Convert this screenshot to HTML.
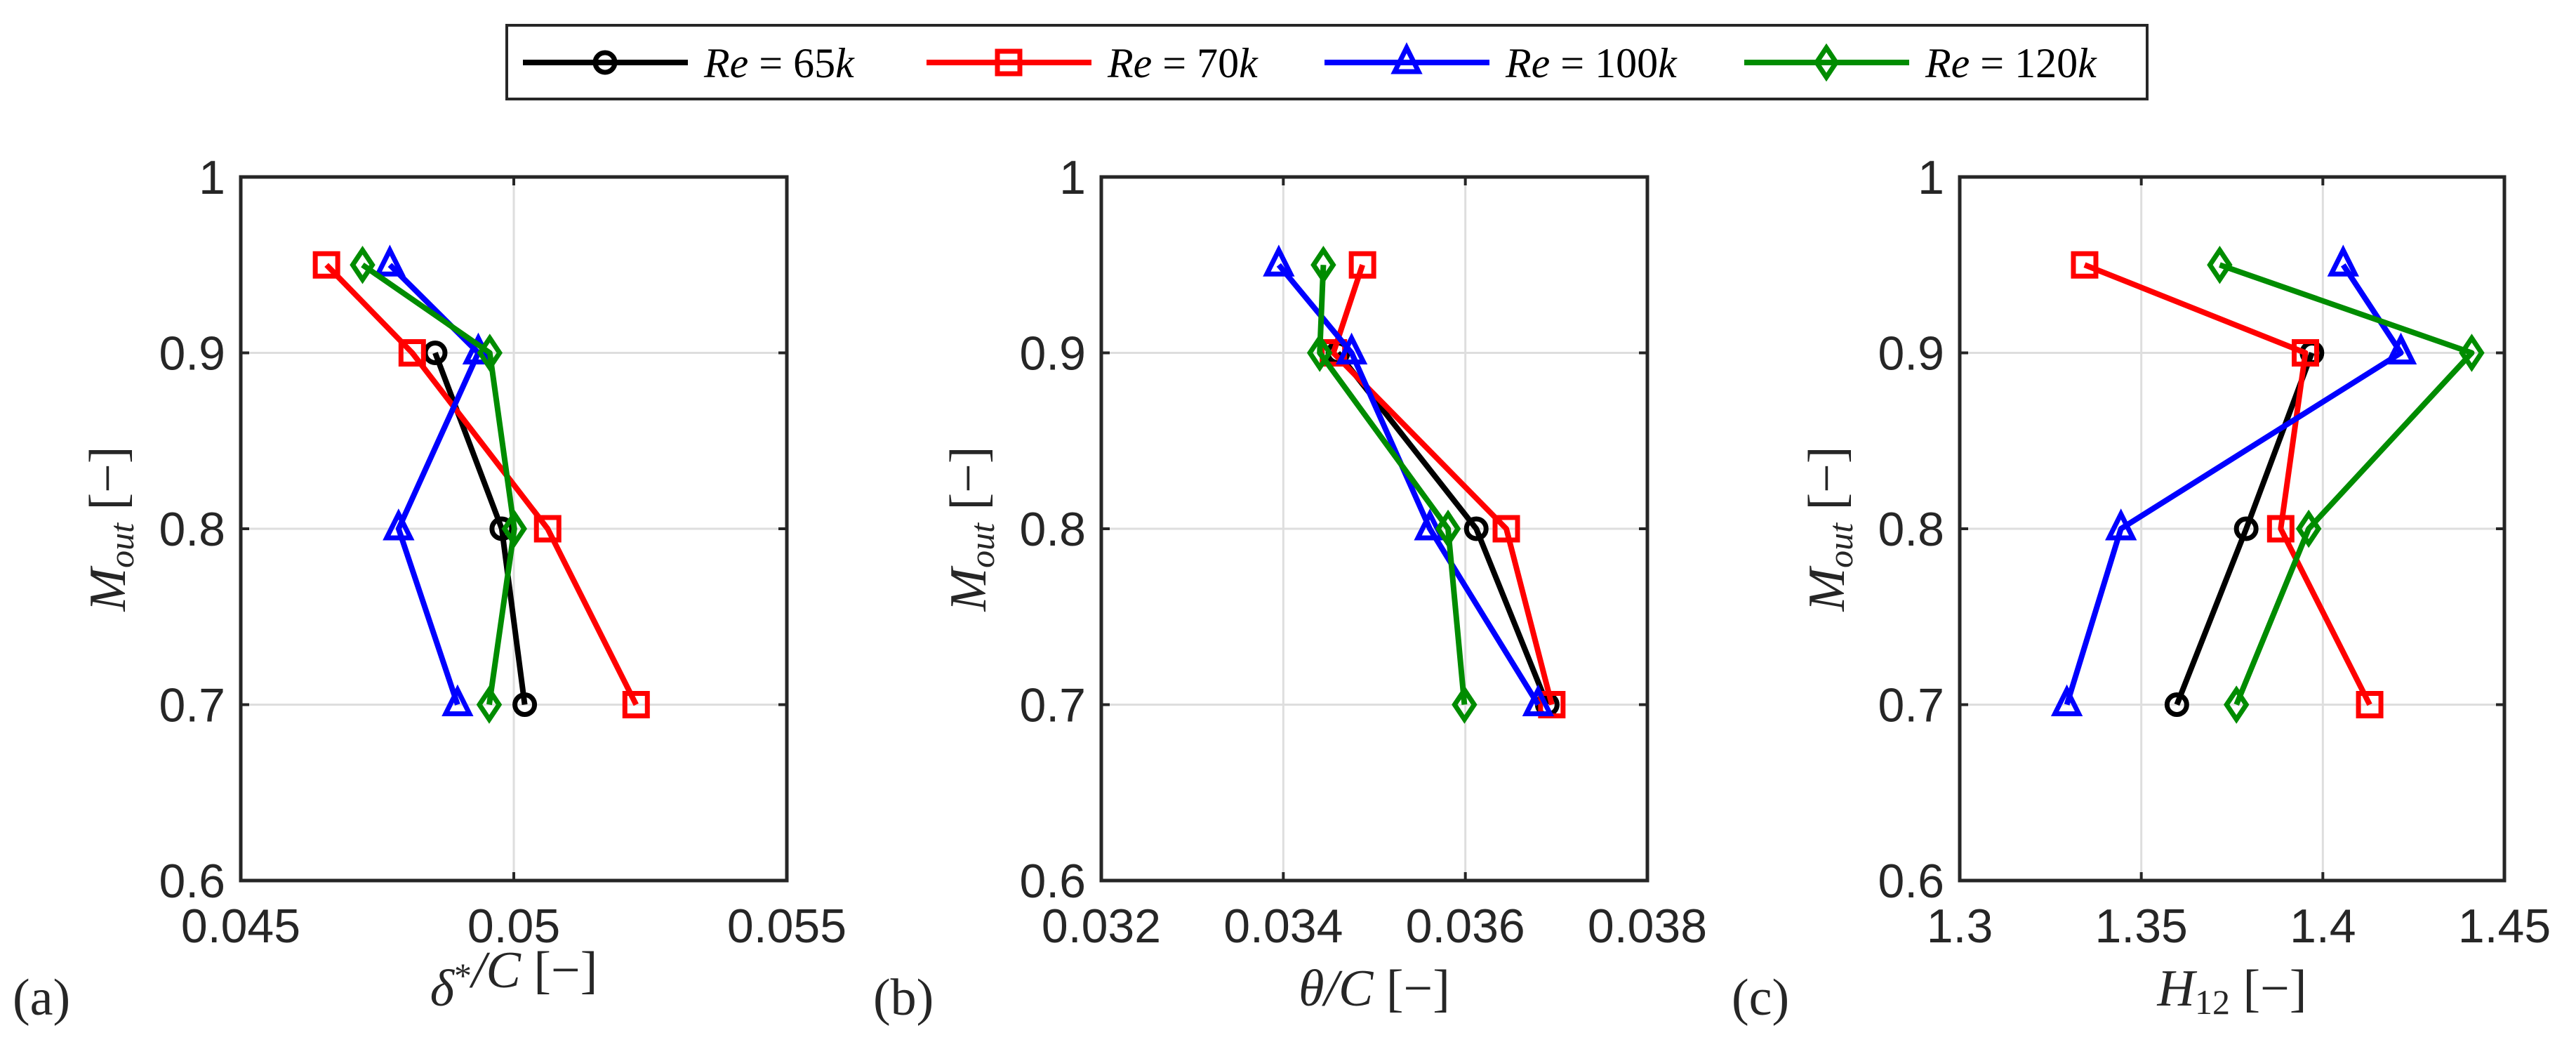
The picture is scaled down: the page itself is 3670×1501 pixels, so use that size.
<!DOCTYPE html>
<html><head><meta charset="utf-8"><style>
body{margin:0;background:#fff}
svg{display:block}
.tick{font-family:"Liberation Sans",sans-serif;font-size:68px;fill:#262626}
.lab{font-family:"Liberation Serif",serif;font-size:74px;fill:#262626}
.leg{font-family:"Liberation Serif",serif;font-size:60px;fill:#000}
</style></head><body>
<svg id="chart" width="3670" height="1501" xmlns="http://www.w3.org/2000/svg">
<rect width="3670" height="1501" fill="#fff"/>
<g>
<rect x="722" y="36" width="2337" height="105" fill="#fff" stroke="#262626" stroke-width="4"/>
<g id="legitems"></g>
</g>
<g id="panels"></g>
</svg>
<script>
const yLevels = [0.95, 0.9, 0.8, 0.7];
const seriesNames = ["Re = 65k","Re = 70k","Re = 100k","Re = 120k"];
const colors = ["#000000","#ff0000","#0000ff","#008c00"];
const markers = ["circle","square","triangle","diamond"];
// panel a: delta*/C  (null = no point)
const deltaRe65 = [null, 0.04856, 0.04978, 0.0502];
const deltaRe70 = [0.04657, 0.04814, 0.05062, 0.05224];
const deltaRe100 = [0.04773, 0.04935, 0.04789, 0.04897];
const deltaRe120 = [0.04723, 0.04956, 0.05001, 0.04955];
// panel b: theta/C
const thetaRe65 = [null, 0.0346, 0.03612, 0.0369];
const thetaRe70 = [0.03487, 0.03455, 0.03645, 0.03695];
const thetaRe100 = [0.03395, 0.03475, 0.03561, 0.0368];
const thetaRe120 = [0.03444, 0.0344, 0.03581, 0.03599];
// panel c: H12
const hRe65 = [null, 1.397, 1.3789, 1.3598];
const hRe70 = [1.3344, 1.3952, 1.3884, 1.4129];
const hRe100 = [1.4056, 1.4215, 1.3444, 1.3295];
const hRe120 = [1.3716, 1.441, 1.3961, 1.3762];
const yTicks = [0.6, 0.7, 0.8, 0.9, 1];
const yTickLabels = ["0.6","0.7","0.8","0.9","1"];
const xTicksA = [0.045, 0.05, 0.055]; const xLabelsA = ["0.045","0.05","0.055"];
const xTicksB = [0.032, 0.034, 0.036, 0.038]; const xLabelsB = ["0.032","0.034","0.036","0.038"];
const xTicksC = [1.3, 1.35, 1.4, 1.45]; const xLabelsC = ["1.3","1.35","1.4","1.45"];

const NS = "http://www.w3.org/2000/svg";
function mk(tag, attrs, parent){const e=document.createElementNS(NS,tag);for(const k in attrs)e.setAttribute(k,attrs[k]);if(parent)parent.appendChild(e);return e;}
function marker(g, type, x, y, c){
  let e;
  if(type==="circle") e=mk("circle",{cx:x,cy:y,r:14,fill:"none",stroke:c,"stroke-width":7},g);
  else if(type==="square") e=mk("rect",{x:x-16,y:y-16,width:32,height:32,fill:"none",stroke:c,"stroke-width":7},g);
  else if(type==="triangle") e=mk("polygon",{points:`${x},${y-21} ${x+17},${y+13} ${x-17},${y+13}`,fill:"none",stroke:c,"stroke-width":7},g);
  else e=mk("polygon",{points:`${x},${y-21} ${x+14},${y} ${x},${y+21} ${x-14},${y}`,fill:"none",stroke:c,"stroke-width":7},g);
  
  
  return e;
}
// legend
const lg=document.getElementById("legitems");
const legX=[745,1320,1887,2485];
seriesNames.forEach((n,i)=>{
  const g=mk("g",{},lg);
  
  
  mk("line",{x1:legX[i],y1:89,x2:legX[i]+235,y2:89,stroke:colors[i],"stroke-width":8},g);
  marker(g,markers[i],legX[i]+117,89,colors[i]);
  const t=mk("text",{x:legX[i]+258,y:110,class:"leg"},g);
  const parts=n.split(" = ");
  const a=mk("tspan",{"font-style":"italic"},t);a.textContent="Re";
  const b=mk("tspan",{},t);b.textContent=" = "+parts[1].replace("k","");
  const c=mk("tspan",{"font-style":"italic"},t);c.textContent="k";
});
const panels=[
 {left:343,w:778,xmin:0.045,xmax:0.055,ticks:xTicksA,labels:xLabelsA,data:[deltaRe65,deltaRe70,deltaRe100,deltaRe120],lab:"(a)",xl:["δ","*","/C [−]"],name:"panel-a"},
 {left:1569,w:778,xmin:0.032,xmax:0.038,ticks:xTicksB,labels:xLabelsB,data:[thetaRe65,thetaRe70,thetaRe100,thetaRe120],lab:"(b)",xl:["θ","","/C [−]"],name:"panel-b"},
 {left:2792,w:776,xmin:1.3,xmax:1.45,ticks:xTicksC,labels:xLabelsC,data:[hRe65,hRe70,hRe100,hRe120],lab:"(c)",xl:["H","12"," [−]"],name:"panel-c"}
];
const plotTop=252,plotBot=1254;
const ys=v=>plotBot-(v-0.6)/0.4*(plotBot-plotTop);
const P=document.getElementById("panels");
panels.forEach(p=>{
  const g=mk("g",{},P);
  
  
  const xs=v=>p.left+(v-p.xmin)/(p.xmax-p.xmin)*p.w;
  const R=p.left+p.w;
  yTicks.forEach((t,i)=>{
    const y=ys(t);
    if(t>0.6&&t<1) mk("line",{x1:p.left,y1:y,x2:R,y2:y,stroke:"#dedede","stroke-width":3},g);
    mk("line",{x1:p.left,y1:y,x2:p.left+12,y2:y,stroke:"#262626","stroke-width":4},g);
    mk("line",{x1:R,y1:y,x2:R-12,y2:y,stroke:"#262626","stroke-width":4},g);
    const tx=mk("text",{x:p.left-22,y:y+24,class:"tick","text-anchor":"end"},g);tx.textContent=yTickLabels[i];
    
    
  });
  p.ticks.forEach((t,i)=>{
    const x=xs(t);
    if(i>0&&i<p.ticks.length-1) mk("line",{x1:x,y1:plotTop,x2:x,y2:plotBot,stroke:"#dedede","stroke-width":3},g);
    mk("line",{x1:x,y1:plotBot,x2:x,y2:plotBot-12,stroke:"#262626","stroke-width":4},g);
    mk("line",{x1:x,y1:plotTop,x2:x,y2:plotTop+12,stroke:"#262626","stroke-width":4},g);
    const tx=mk("text",{x:x,y:1342,class:"tick","text-anchor":"middle"},g);tx.textContent=p.labels[i];
    
    
  });
  mk("rect",{x:p.left,y:plotTop,width:p.w,height:plotBot-plotTop,fill:"none",stroke:"#262626","stroke-width":5},g);
  p.data.forEach((arr,si)=>{
    const pts=[];arr.forEach((v,k)=>{if(v!==null)pts.push([xs(v),ys(yLevels[k])]);});
    const pl=mk("polyline",{points:pts.map(q=>q.join(",")).join(" "),fill:"none",stroke:colors[si],"stroke-width":8,"stroke-linejoin":"round"},g);
    
    
    pts.forEach(q=>marker(g,markers[si],q[0],q[1],colors[si]));
  });
  const yl=mk("text",{transform:`translate(${p.left-165},${(plotTop+plotBot)/2}) rotate(-90)`,class:"lab","text-anchor":"middle"},g);
  
  
  let s=mk("tspan",{"font-style":"italic"},yl);s.textContent="M";
  s=mk("tspan",{"font-style":"italic","font-size":"50px",dy:12},yl);s.textContent="out";
  s=mk("tspan",{dy:-12},yl);s.textContent="  [−]";
  const xl=mk("text",{x:p.left+p.w/2,y:1432,class:"lab","text-anchor":"middle"},g);
  
  
  s=mk("tspan",{"font-style":"italic"},xl);s.textContent=p.xl[0];
  if(p.xl[1]){
    const isSub=p.xl[1]==="12";
    s=mk("tspan",{"font-size":"50px",dy:isSub?12:-26},xl);s.textContent=p.xl[1];
    s=mk("tspan",{dy:isSub?-12:26},xl);
  } else s=mk("tspan",{},xl);
  const rest=p.xl[2];
  if(rest.startsWith("/C")){const c1=mk("tspan",{"font-style":"italic"},xl);c1.textContent="/C";const c2=mk("tspan",{},xl);c2.textContent=rest.slice(2);s.remove();}
  else s.textContent=rest;
  const pl=mk("text",{x:p.left-325,y:1445,class:"lab"},g);pl.textContent=p.lab;
  
  
});
</script>
</body></html>
